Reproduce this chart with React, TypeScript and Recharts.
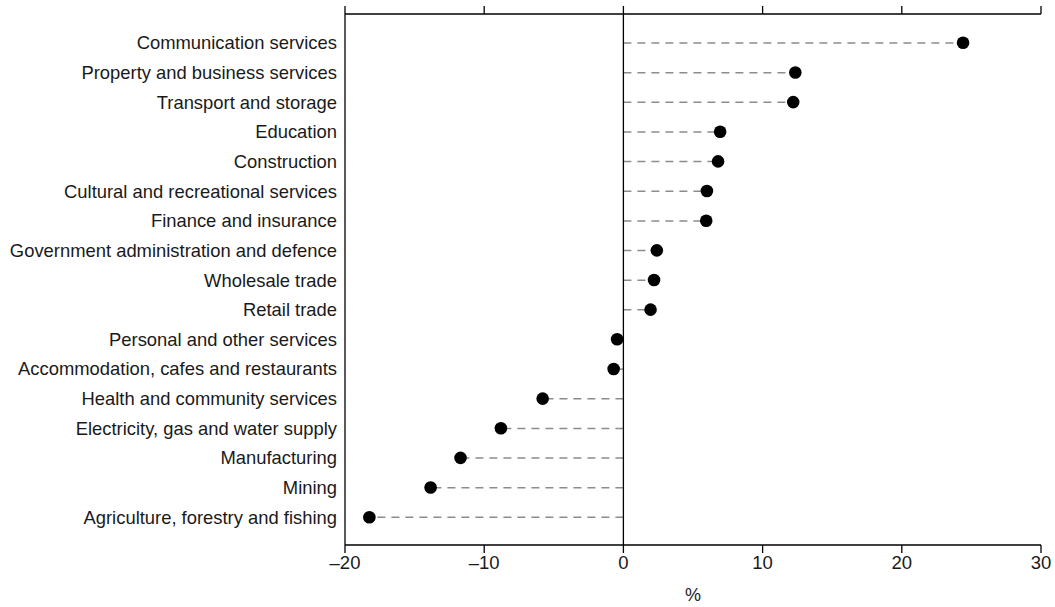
import * as React from 'react';
import { ComposedChart, XAxis, YAxis, Bar, Line, ReferenceLine } from 'recharts';

// industries, top to bottom
const industries = [
    'Communication services',
    'Property and business services',
    'Transport and storage',
    'Education',
    'Construction',
    'Cultural and recreational services',
    'Finance and insurance',
    'Government administration and defence',
    'Wholesale trade',
    'Retail trade',
    'Personal and other services',
    'Accommodation, cafes and restaurants',
    'Health and community services',
    'Electricity, gas and water supply',
    'Manufacturing',
    'Mining',
    'Agriculture, forestry and fishing',
];

// % change
const changes = [24.4, 12.35, 12.2, 6.95, 6.8, 6.0, 5.95, 2.4, 2.2, 1.95, -0.45, -0.7, -5.8, -8.8, -11.7, -13.85, -18.25];

const xTicks = [-20, -10, 0, 10, 20, 30];

const data = industries.map((name, i) => ({ name, value: changes[i] }));

const fontFamily = '"Liberation Sans", Arial, sans-serif';
const fmt = (v: number) => (v < 0 ? '\u2013' + Math.abs(v) : String(v));

// dashed leader from zero to the dot
function Leader(props: any) {
    const { x, y, width, height } = props;
    if (x == null || width == null) return null;
    const cy = y + height / 2;
    return <line x1={x} x2={x + width} y1={cy} y2={cy} stroke="#8c8c8c" strokeWidth={1.5} strokeDasharray="8 6" />;
}

// top axis keeps tick marks but no labels
const NoLabel = () => <g />;

export default function App() {
    return (
        <div style={{ position: 'absolute', left: 0, top: 0 }}>
            <ComposedChart
                width={1055}
                height={607}
                data={data}
                layout="vertical"
                margin={{ top: 6, right: 14, left: 0, bottom: 0 }}>
                <XAxis
                    xAxisId="bottom"
                    type="number"
                    domain={[-20, 30]}
                    ticks={xTicks}
                    tickFormatter={fmt}
                    height={62}
                    tickSize={8}
                    tickMargin={3}
                    stroke="#000"
                    strokeWidth={1.3}
                    tick={{ fill: '#1a1a1a', fontSize: 18.5, fontFamily }}
                    label={{ value: '%', position: 'insideBottom', offset: 6, fill: '#1a1a1a', fontSize: 18, fontFamily }}
                />
                <XAxis
                    xAxisId="top"
                    orientation="top"
                    type="number"
                    domain={[-20, 30]}
                    ticks={xTicks}
                    height={8}
                    tickSize={8}
                    interval={0}
                    tick={NoLabel}
                    tickLine={{ stroke: '#000', strokeWidth: 1.3 }}
                    stroke="#000"
                    strokeWidth={1.3}
                />
                <YAxis
                    type="category"
                    dataKey="name"
                    width={345}
                    padding={{ top: 14, bottom: 13 }}
                    tickSize={0}
                    tickMargin={8}
                    tickLine={false}
                    stroke="#000"
                    strokeWidth={1.3}
                    interval={0}
                    tick={{ fill: '#1a1a1a', fontSize: 18.4, fontFamily }}
                />
                <ReferenceLine xAxisId="bottom" x={0} stroke="#000" strokeWidth={1.3} />
                <Bar xAxisId="bottom" dataKey="value" barSize={4} shape={<Leader />} isAnimationActive={false} />
                <Line
                    xAxisId="top"
                    dataKey="value"
                    stroke="none"
                    dot={{ r: 6.3, fill: '#000', stroke: 'none' }}
                    activeDot={false}
                    isAnimationActive={false}
                />
            </ComposedChart>
        </div>
    );
}
